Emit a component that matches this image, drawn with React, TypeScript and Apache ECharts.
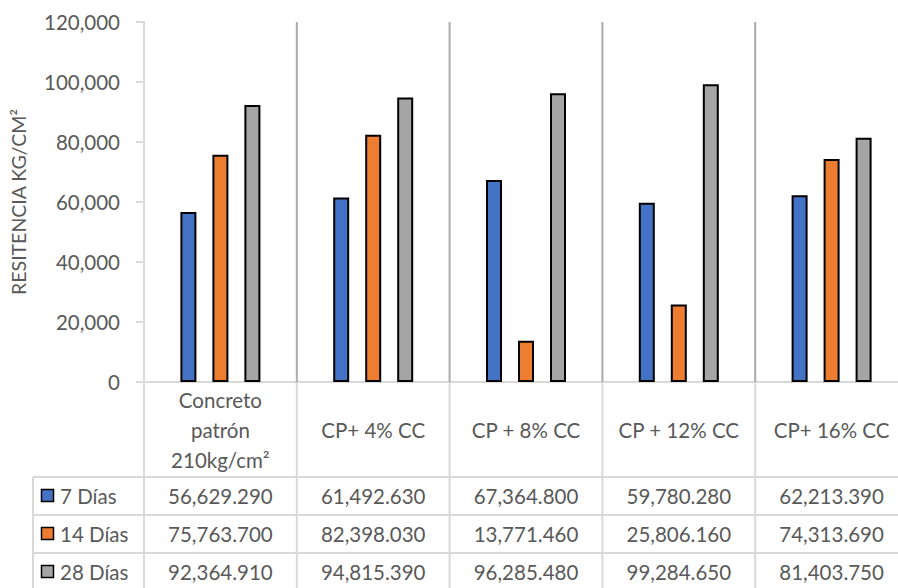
import React, { useEffect, useRef } from "react";
import * as echarts from "echarts";

const categories = [
  "Concreto\npatrón\n210kg/cm²",
  "CP+ 4% CC",
  "CP + 8% CC",
  "CP + 12% CC",
  "CP+ 16% CC",
];
const seriesNames = ["7 Días", "14 Días", "28 Días"];
const dias7 = [56629.29, 61492.63, 67364.8, 59780.28, 62213.39];
const dias14 = [75763.7, 82398.03, 13771.46, 25806.16, 74313.69];
const dias28 = [92364.91, 94815.39, 96285.48, 99284.65, 81403.75];
const seriesColors = ["#4472C4", "#ED7D31", "#A5A5A5"];
const yMin = 0;
const yMax = 120000;
const yInterval = 20000;
const yTitle = "RESITENCIA KG/CM²";

const FONT = "Lato, 'Open Sans', sans-serif";
const TEXT = "#595959";
const LIGHT = "#D9D9D9";
const DARK = "#ABABAB";

export default function App() {
  const ref = useRef<HTMLDivElement>(null);
  useEffect(() => {
    if (!ref.current) return;
    const chart = echarts.init(ref.current, null, { renderer: "svg" });
    const seriesData = [dias7, dias14, dias28];
    chart.setOption({
      animation: false,
      textStyle: { fontFamily: FONT },
      grid: { left: 138, top: 22, width: 770, height: 360, containLabel: false },
      xAxis: {
        type: "category",
        data: categories,
        axisLine: { show: true, lineStyle: { color: LIGHT, width: 2 } },
        axisTick: { show: false },
        splitLine: { show: false },
        axisLabel: {
          interval: 0,
          margin: 48,
          verticalAlign: "middle",
          align: "center",
          lineHeight: 30,
          fontSize: 20.5,
          color: TEXT,
          fontFamily: FONT,
        },
      },
      yAxis: {
        type: "value",
        min: yMin,
        max: yMax,
        interval: yInterval,
        name: yTitle,
        nameLocation: "middle",
        nameRotate: 90,
        nameGap: 116,
        nameTextStyle: { fontSize: 19.5, color: TEXT, fontFamily: FONT },
        axisLine: { show: true, lineStyle: { color: LIGHT, width: 2 } },
        axisTick: { show: true, length: 8, lineStyle: { color: LIGHT, width: 2 } },
        splitLine: { show: false },
        axisLabel: {
          margin: 24,
          fontSize: 20.5,
          color: TEXT,
          fontFamily: FONT,
          formatter: (v: number) => v.toLocaleString("en-US"),
        },
      },
      series: seriesNames.map((name, i) => ({
        name,
        type: "bar",
        data: seriesData[i],
        barWidth: 16,
        barGap: "100%",
        itemStyle: { color: seriesColors[i], borderColor: "#000", borderWidth: 2 },
      })),
    });

    const xc0 = chart.convertToPixel({ xAxisIndex: 0 }, 0) as number;
    const xc1 = chart.convertToPixel({ xAxisIndex: 0 }, 1) as number;
    const colW = xc1 - xc0;
    const yBase = chart.convertToPixel({ yAxisIndex: 0 }, yMin) as number;
    const yTop = chart.convertToPixel({ yAxisIndex: 0 }, yMax) as number;
    const headerH = 95;
    const rowH = 38;
    const tableLeft = 33;
    const rightEnd = xc0 - colW / 2 + colW * categories.length;
    const bottom = 600;
    const g: any[] = [];
    for (let i = 0; i <= categories.length; i++) {
      const bx = xc0 - colW / 2 + i * colW;
      if (i > 0) {
        g.push({
          type: "line",
          shape: { x1: bx, y1: yTop, x2: bx, y2: yBase },
          style: { stroke: DARK, lineWidth: 2 },
          z: 1,
        });
      }
      g.push({
        type: "line",
        shape: { x1: bx, y1: yBase, x2: bx, y2: bottom },
        style: { stroke: LIGHT, lineWidth: 2 },
        z: 1,
      });
    }
    const firstRowTop = yBase + headerH;
    g.push({
      type: "line",
      shape: { x1: tableLeft, y1: firstRowTop, x2: tableLeft, y2: bottom },
      style: { stroke: LIGHT, lineWidth: 2 },
      z: 1,
    });
    seriesNames.forEach((name, r) => {
      const top = firstRowTop + r * rowH;
      const cy = top + rowH / 2;
      g.push({
        type: "line",
        shape: { x1: tableLeft, y1: top, x2: rightEnd, y2: top },
        style: { stroke: LIGHT, lineWidth: 2 },
        z: 1,
      });
      g.push({
        type: "rect",
        shape: { x: 41.5, y: cy - 6.5, width: 12, height: 12 },
        style: { fill: seriesColors[r], stroke: "#000", lineWidth: 1.5 },
        z: 2,
      });
      g.push({
        type: "text",
        x: 60,
        y: cy,
        style: {
          text: name,
          fill: TEXT,
          fontSize: 20.5,
          fontFamily: FONT,
          align: "left",
          verticalAlign: "middle",
        },
        z: 2,
      });
      seriesData[r].forEach((v, c) => {
        g.push({
          type: "text",
          x: xc0 + c * colW,
          y: cy,
          style: {
            text: v.toLocaleString("en-US", { minimumFractionDigits: 3, maximumFractionDigits: 3 }),
            fill: TEXT,
            fontSize: 20.5,
            fontFamily: FONT,
            align: "center",
            verticalAlign: "middle",
          },
          z: 2,
        });
      });
    });
    chart.setOption({ graphic: g });
    return () => chart.dispose();
  }, []);
  return (
    <div
      style={{ position: "absolute", left: 0, top: 0, width: 898, height: 588, overflow: "hidden", background: "#fff" }}
    >
      <div ref={ref} style={{ width: 930, height: 588 }} />
    </div>
  );
}
